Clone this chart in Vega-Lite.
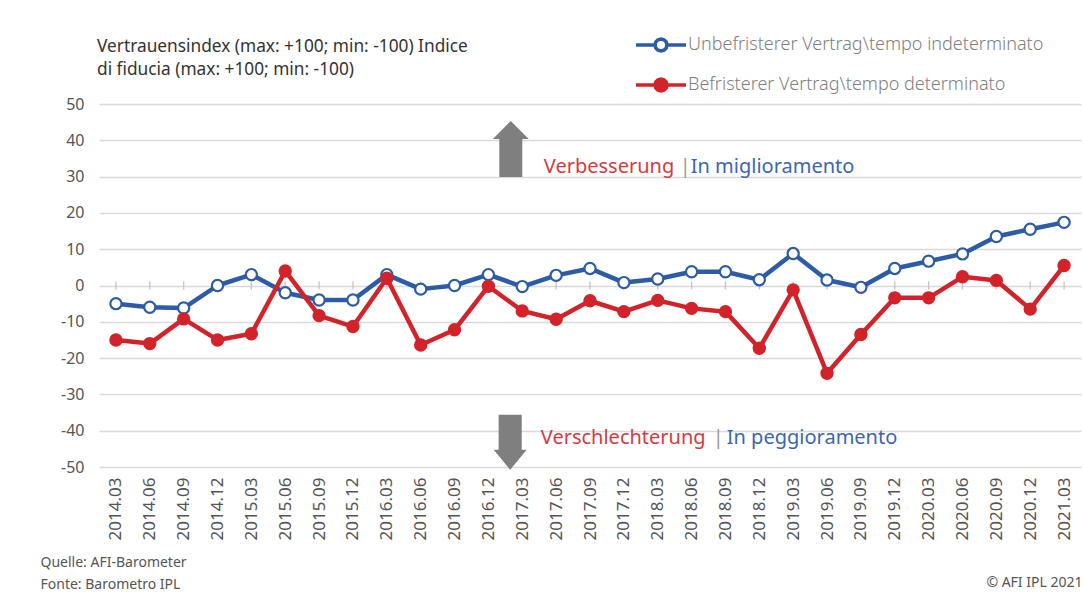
{
  "$schema": "https://vega.github.io/schema/vega-lite/v6.json",
  "autosize": "none",
  "width": 982,
  "height": 363,
  "padding": {"left": 99, "top": 104, "right": 2, "bottom": 129},
  "background": "white",
  "config": {
    "font": "Noto Sans",
    "view": {"stroke": null}
  },
  "title": {
    "text": ["Vertrauensindex (max: +100; min: -100)  Indice", "di fiducia (max: +100; min: -100)"],
    "anchor": "start",
    "frame": "group",
    "font": "Noto Sans",
    "fontSize": 17.3,
    "fontWeight": "normal",
    "color": "#333333",
    "lineHeight": 23,
    "offset": 20,
    "dx": -2,
    "dy": 80
  },
  "data": {
    "values": [
      {"quartal": "2014.03", "serie": "Unbefristerer Vertrag\\tempo indeterminato", "wert": -5},
      {"quartal": "2014.06", "serie": "Unbefristerer Vertrag\\tempo indeterminato", "wert": -6},
      {"quartal": "2014.09", "serie": "Unbefristerer Vertrag\\tempo indeterminato", "wert": -6.2},
      {"quartal": "2014.12", "serie": "Unbefristerer Vertrag\\tempo indeterminato", "wert": 0},
      {"quartal": "2015.03", "serie": "Unbefristerer Vertrag\\tempo indeterminato", "wert": 3},
      {"quartal": "2015.06", "serie": "Unbefristerer Vertrag\\tempo indeterminato", "wert": -2},
      {"quartal": "2015.09", "serie": "Unbefristerer Vertrag\\tempo indeterminato", "wert": -4},
      {"quartal": "2015.12", "serie": "Unbefristerer Vertrag\\tempo indeterminato", "wert": -4},
      {"quartal": "2016.03", "serie": "Unbefristerer Vertrag\\tempo indeterminato", "wert": 3},
      {"quartal": "2016.06", "serie": "Unbefristerer Vertrag\\tempo indeterminato", "wert": -1},
      {"quartal": "2016.09", "serie": "Unbefristerer Vertrag\\tempo indeterminato", "wert": 0},
      {"quartal": "2016.12", "serie": "Unbefristerer Vertrag\\tempo indeterminato", "wert": 3},
      {"quartal": "2017.03", "serie": "Unbefristerer Vertrag\\tempo indeterminato", "wert": -0.3},
      {"quartal": "2017.06", "serie": "Unbefristerer Vertrag\\tempo indeterminato", "wert": 2.8},
      {"quartal": "2017.09", "serie": "Unbefristerer Vertrag\\tempo indeterminato", "wert": 4.7},
      {"quartal": "2017.12", "serie": "Unbefristerer Vertrag\\tempo indeterminato", "wert": 0.8},
      {"quartal": "2018.03", "serie": "Unbefristerer Vertrag\\tempo indeterminato", "wert": 1.8},
      {"quartal": "2018.06", "serie": "Unbefristerer Vertrag\\tempo indeterminato", "wert": 3.8},
      {"quartal": "2018.09", "serie": "Unbefristerer Vertrag\\tempo indeterminato", "wert": 3.8},
      {"quartal": "2018.12", "serie": "Unbefristerer Vertrag\\tempo indeterminato", "wert": 1.6},
      {"quartal": "2019.03", "serie": "Unbefristerer Vertrag\\tempo indeterminato", "wert": 8.8},
      {"quartal": "2019.06", "serie": "Unbefristerer Vertrag\\tempo indeterminato", "wert": 1.5},
      {"quartal": "2019.09", "serie": "Unbefristerer Vertrag\\tempo indeterminato", "wert": -0.5},
      {"quartal": "2019.12", "serie": "Unbefristerer Vertrag\\tempo indeterminato", "wert": 4.7},
      {"quartal": "2020.03", "serie": "Unbefristerer Vertrag\\tempo indeterminato", "wert": 6.7},
      {"quartal": "2020.06", "serie": "Unbefristerer Vertrag\\tempo indeterminato", "wert": 8.7},
      {"quartal": "2020.09", "serie": "Unbefristerer Vertrag\\tempo indeterminato", "wert": 13.5},
      {"quartal": "2020.12", "serie": "Unbefristerer Vertrag\\tempo indeterminato", "wert": 15.5},
      {"quartal": "2021.03", "serie": "Unbefristerer Vertrag\\tempo indeterminato", "wert": 17.4},
      {"quartal": "2014.03", "serie": "Befristerer Vertrag\\tempo determinato", "wert": -15},
      {"quartal": "2014.06", "serie": "Befristerer Vertrag\\tempo determinato", "wert": -16},
      {"quartal": "2014.09", "serie": "Befristerer Vertrag\\tempo determinato", "wert": -9.2},
      {"quartal": "2014.12", "serie": "Befristerer Vertrag\\tempo determinato", "wert": -15},
      {"quartal": "2015.03", "serie": "Befristerer Vertrag\\tempo determinato", "wert": -13.3},
      {"quartal": "2015.06", "serie": "Befristerer Vertrag\\tempo determinato", "wert": 4},
      {"quartal": "2015.09", "serie": "Befristerer Vertrag\\tempo determinato", "wert": -8.3},
      {"quartal": "2015.12", "serie": "Befristerer Vertrag\\tempo determinato", "wert": -11.3},
      {"quartal": "2016.03", "serie": "Befristerer Vertrag\\tempo determinato", "wert": 2},
      {"quartal": "2016.06", "serie": "Befristerer Vertrag\\tempo determinato", "wert": -16.4},
      {"quartal": "2016.09", "serie": "Befristerer Vertrag\\tempo determinato", "wert": -12.2},
      {"quartal": "2016.12", "serie": "Befristerer Vertrag\\tempo determinato", "wert": -0.2},
      {"quartal": "2017.03", "serie": "Befristerer Vertrag\\tempo determinato", "wert": -7},
      {"quartal": "2017.06", "serie": "Befristerer Vertrag\\tempo determinato", "wert": -9.3},
      {"quartal": "2017.09", "serie": "Befristerer Vertrag\\tempo determinato", "wert": -4.2},
      {"quartal": "2017.12", "serie": "Befristerer Vertrag\\tempo determinato", "wert": -7.2},
      {"quartal": "2018.03", "serie": "Befristerer Vertrag\\tempo determinato", "wert": -4.1},
      {"quartal": "2018.06", "serie": "Befristerer Vertrag\\tempo determinato", "wert": -6.3},
      {"quartal": "2018.09", "serie": "Befristerer Vertrag\\tempo determinato", "wert": -7.2},
      {"quartal": "2018.12", "serie": "Befristerer Vertrag\\tempo determinato", "wert": -17.3},
      {"quartal": "2019.03", "serie": "Befristerer Vertrag\\tempo determinato", "wert": -1.2},
      {"quartal": "2019.06", "serie": "Befristerer Vertrag\\tempo determinato", "wert": -24.2},
      {"quartal": "2019.09", "serie": "Befristerer Vertrag\\tempo determinato", "wert": -13.5},
      {"quartal": "2019.12", "serie": "Befristerer Vertrag\\tempo determinato", "wert": -3.4},
      {"quartal": "2020.03", "serie": "Befristerer Vertrag\\tempo determinato", "wert": -3.4},
      {"quartal": "2020.06", "serie": "Befristerer Vertrag\\tempo determinato", "wert": 2.4},
      {"quartal": "2020.09", "serie": "Befristerer Vertrag\\tempo determinato", "wert": 1.4},
      {"quartal": "2020.12", "serie": "Befristerer Vertrag\\tempo determinato", "wert": -6.5},
      {"quartal": "2021.03", "serie": "Befristerer Vertrag\\tempo determinato", "wert": 5.5}
    ]
  },
  "encoding": {
    "x": {
      "field": "quartal",
      "type": "ordinal",
      "sort": null,
      "scale": {"type": "point", "padding": 0.5},
      "axis": {
        "orient": "bottom",
        "domain": false,
        "ticks": false,
        "labelAngle": 270,
        "labelPadding": 10,
        "labelFont": "Noto Sans",
        "labelFontSize": 17,
        "labelColor": "#555555",
        "grid": false,
        "title": ["Quelle: AFI-Barometer", "Fonte: Barometro IPL"],
        "titleFont": "Noto Sans",
        "titleFontSize": 14,
        "titleFontWeight": "normal",
        "titleColor": "#555555",
        "titleAlign": "left",
        "titleAnchor": "start",
        "titleBaseline": "top",
        "titleLineHeight": 22,
        "titleX": -59,
        "titleY": 88
      }
    },
    "y": {
      "field": "wert",
      "type": "quantitative",
      "scale": {"domain": [-50, 50], "nice": false, "zero": false},
      "axis": {
        "values": [-50, -40, -30, -20, -10, 0, 10, 20, 30, 40, 50],
        "labelExpr": "'' + datum.value",
        "domain": false,
        "ticks": false,
        "labelPadding": 15,
        "labelFont": "Noto Sans",
        "labelFontSize": 16,
        "labelColor": "#555555",
        "gridColor": "#d9d9d9",
        "gridWidth": 1.5,
        "title": "© AFI IPL 2021",
        "titleAngle": 0,
        "titleFont": "Noto Sans",
        "titleFontSize": 14,
        "titleFontWeight": "normal",
        "titleColor": "#555555",
        "titleAlign": "right",
        "titleBaseline": "middle",
        "titleX": 983,
        "titleY": 478
      }
    }
  },
  "layer": [
    {
      "transform": [{"filter": "datum.serie[0] === 'U'"}],
      "mark": {"type": "rule", "color": "#c4c4c4", "strokeWidth": 1.3},
      "encoding": {
        "y": {"datum": -1.1},
        "y2": {"datum": 1.1}
      }
    },
    {
      "mark": {"type": "line", "strokeWidth": 4.5, "strokeJoin": "round"},
      "encoding": {
        "stroke": {
          "field": "serie",
          "type": "nominal",
          "scale": {
            "domain": ["Unbefristerer Vertrag\\tempo indeterminato", "Befristerer Vertrag\\tempo determinato"],
            "range": ["#2c5ba8", "#d3232a"]
          },
          "legend": {
            "orient": "none",
            "legendX": 535,
            "legendY": -86,
            "title": null,
            "padding": 0,
            "symbolType": "M-1,0 L-0.24,0 M0.24,0 L0.208,0.12 L0.12,0.208 L0,0.24 L-0.12,0.208 L-0.208,0.12 L-0.24,0 L-0.208,-0.12 L-0.12,-0.208 L0,-0.24 L0.12,-0.208 L0.208,-0.12 Z M0.24,0 L1,0",
            "symbolSize": 2500,
            "symbolStrokeWidth": 3.5,
            "symbolOpacity": 1,
            "labelFont": "Noto Sans",
            "labelFontSize": 18,
            "labelFontWeight": 300,
            "labelColor": "#808080",
            "labelOffset": 0,
            "labelLimit": 500,
            "rowPadding": -15,
            "encode": {
              "symbols": {
                "update": {
                  "fill": {"signal": "datum.value[0] === 'U' ? '#ffffff' : '#d3232a'"},
                  "fillOpacity": {"value": 1},
                  "strokeWidth": {"value": 3.5}
                }
              }
            }
          }
        }
      }
    },
    {
      "mark": {"type": "point", "filled": false, "size": 125, "strokeWidth": 2.2, "opacity": 1},
      "encoding": {
        "stroke": {"field": "serie", "type": "nominal", "legend": null},
        "fill": {
          "field": "serie",
          "type": "nominal",
          "scale": {
            "domain": ["Unbefristerer Vertrag\\tempo indeterminato", "Befristerer Vertrag\\tempo determinato"],
            "range": ["#ffffff", "#d3232a"]
          },
          "legend": null
        }
      }
    },
    {
      "transform": [{"filter": "datum.quartal === '2017.03' && datum.serie[0] === 'U'"}],
      "mark": {
        "type": "point",
        "shape": "M-0.82,1 L0,1 L0,-0.36 L0.23,-0.36 L-0.41,-1 L-1.05,-0.36 L-0.82,-0.36 Z",
        "size": 3136,
        "filled": true,
        "color": "#7f7f7f",
        "opacity": 1
      },
      "encoding": {
        "y": {"datum": 37.6}
      }
    },
    {
      "transform": [{"filter": "datum.quartal === '2017.03' && datum.serie[0] === 'U'"}],
      "mark": {
        "type": "point",
        "shape": "M-0.86,-1 L-0.02,-1 L-0.02,0.27 L0.16,0.27 L-0.44,1 L-1.04,0.27 L-0.86,0.27 Z",
        "size": 3025,
        "filled": true,
        "color": "#7f7f7f",
        "opacity": 1
      },
      "encoding": {
        "y": {"datum": -43.2}
      }
    },
    {
      "transform": [{"filter": "datum.quartal === '2017.03' && datum.serie[0] === 'U'"}],
      "mark": {"type": "text", "text": "Verbesserung", "align": "left", "baseline": "middle", "dx": 21.5, "fontSize": 20, "font": "Noto Sans", "color": "#d63a3f"},
      "encoding": {"y": {"datum": 32.6}}
    },
    {
      "transform": [{"filter": "datum.quartal === '2017.03' && datum.serie[0] === 'U'"}],
      "mark": {"type": "text", "text": "|", "align": "left", "baseline": "middle", "dx": 157.5, "fontSize": 20, "font": "Noto Sans", "color": "#9a9a9a"},
      "encoding": {"y": {"datum": 32.6}}
    },
    {
      "transform": [{"filter": "datum.quartal === '2017.03' && datum.serie[0] === 'U'"}],
      "mark": {"type": "text", "text": "In miglioramento", "align": "left", "baseline": "middle", "dx": 168.5, "fontSize": 20, "font": "Noto Sans", "color": "#3b66b0"},
      "encoding": {"y": {"datum": 32.6}}
    },
    {
      "transform": [{"filter": "datum.quartal === '2017.03' && datum.serie[0] === 'U'"}],
      "mark": {"type": "text", "text": "Verschlechterung", "align": "left", "baseline": "middle", "dx": 18.5, "fontSize": 20, "font": "Noto Sans", "color": "#d63a3f"},
      "encoding": {"y": {"datum": -42}}
    },
    {
      "transform": [{"filter": "datum.quartal === '2017.03' && datum.serie[0] === 'U'"}],
      "mark": {"type": "text", "text": "|", "align": "left", "baseline": "middle", "dx": 190.5, "fontSize": 20, "font": "Noto Sans", "color": "#9a9a9a"},
      "encoding": {"y": {"datum": -42}}
    },
    {
      "transform": [{"filter": "datum.quartal === '2017.03' && datum.serie[0] === 'U'"}],
      "mark": {"type": "text", "text": "In peggioramento", "align": "left", "baseline": "middle", "dx": 204.5, "fontSize": 20, "font": "Noto Sans", "color": "#3b66b0"},
      "encoding": {"y": {"datum": -42}}
    }
  ]
}
